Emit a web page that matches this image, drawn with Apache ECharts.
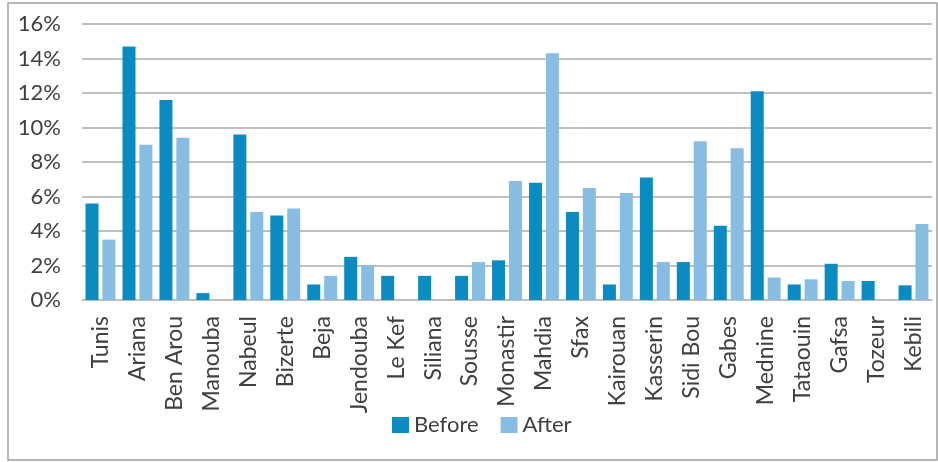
<!DOCTYPE html>
<html><head><meta charset="utf-8">
<script src="https://cdn.jsdelivr.net/npm/echarts@6/dist/echarts.min.js"></script>
<style>html,body{margin:0;padding:0;background:#fff}#c{width:938px;height:462px}</style>
</head><body><div id="c"></div>
<script>
const categories = ["Tunis","Ariana","Ben Arou","Manouba","Nabeul","Bizerte","Beja","Jendouba","Le Kef","Siliana","Sousse","Monastir","Mahdia","Sfax","Kairouan","Kasserin","Sidi Bou","Gabes","Mednine","Tataouin","Gafsa","Tozeur","Kebili"];
const before = [5.6,14.7,11.6,0.4,9.6,4.9,0.9,2.5,1.4,1.4,1.4,2.3,6.8,5.1,0.9,7.1,2.2,4.3,12.1,0.9,2.1,1.1,0.85];
const after = [3.5,9.0,9.4,0,5.1,5.3,1.4,2.0,0,0,2.2,6.9,14.3,6.5,6.2,2.2,9.2,8.8,1.3,1.2,1.1,0,4.4];
const seriesNames = ["Before","After"];
const chart = echarts.init(document.getElementById('c'));
const font = 'Lato, "Open Sans", sans-serif';
chart.setOption({
  animation:false,
  textStyle:{fontFamily:font},
  graphic:[{type:'rect',shape:{x:8,y:3,width:929,height:457},style:{fill:'none',stroke:'#a0a0a0',lineWidth:1.5},silent:true}],
  grid:{left:82,right:6,top:24,bottom:162},
  legend:{data:seriesNames,top:409,left:387,itemWidth:17,itemHeight:16,itemGap:22,
    textStyle:{fontSize:22,color:'#404040',fontFamily:font},icon:'rect'},
  xAxis:{type:'category',data:categories,
    axisLine:{lineStyle:{color:'#bfbfbf',width:1.5}},axisTick:{show:false},
    axisLabel:{rotate:90,fontSize:23,color:'#404040',margin:16,interval:0,fontFamily:font}},
  yAxis:{type:'value',min:0,max:16,interval:2,
    axisLabel:{formatter:'{value}%',fontSize:22,color:'#404040',margin:21,fontFamily:font},
    splitLine:{lineStyle:{color:'#bfbfbf',width:2}},
    axisLine:{show:false},axisTick:{show:false}},
  series:[
    {name:seriesNames[0],type:'bar',data:before,barWidth:13,barGap:'30%',itemStyle:{color:'#0a8bc1'}},
    {name:seriesNames[1],type:'bar',data:after,barWidth:13,itemStyle:{color:'#87bde3'}}
  ]
});
</script></body></html>
